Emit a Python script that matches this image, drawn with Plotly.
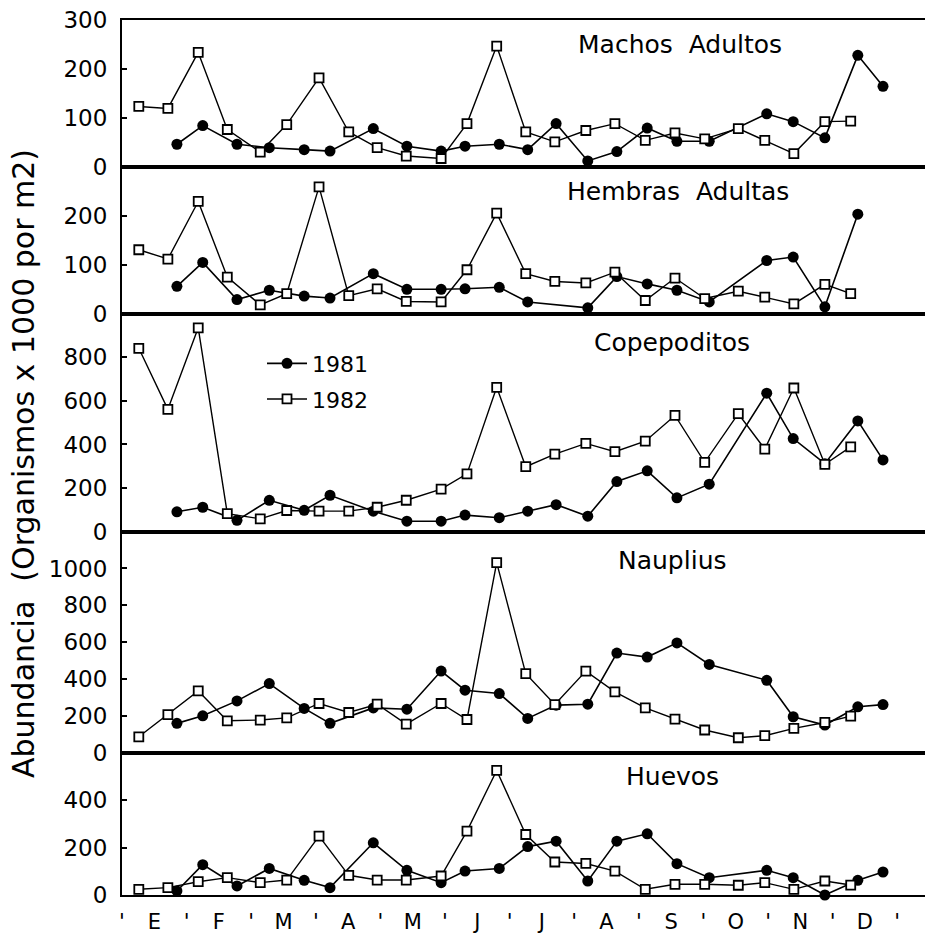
import plotly.graph_objects as go

# ---------------- data ----------------
meses = ["E", "F", "M", "A", "M", "J", "J", "A", "S", "O", "N", "D"]

# sampling dates, in months since 1 January
fecha_1981 = [0.85, 1.25, 1.78, 2.28, 2.82, 3.22, 3.89, 4.41, 4.94, 5.31, 5.84, 6.28,
              6.72, 7.21, 7.66, 8.13, 8.59, 9.09, 9.98, 10.39, 10.88, 11.39, 11.78]
fecha_1982 = [0.26, 0.71, 1.18, 1.63, 2.14, 2.55, 3.05, 3.51, 3.95, 4.40, 4.94, 5.34,
              5.80, 6.25, 6.70, 7.18, 7.63, 8.10, 8.56, 9.02, 9.54, 9.95, 10.40, 10.88, 11.28]

machos_1981 = [47, 85, 47, 40, 36, 33, 79, 43, 33, 43, 47, 36, 89, 13, 32, 80, 53, 53,
               109, 93, 60, 228, 165]
machos_1982 = [124, 120, 234, 77, 31, 87, 182, 72, 40, 23, 18, 89, 247, 72, 52, 75, 89,
               55, 70, 58, 79, 55, 28, 93, 94]

hembras_1981 = [56, 105, 29, 48, 36, 32, 82, 50, 50, 51, 54, 24, None, 12, 76, 61, 48, 24,
                109, 116, 14, 204, None]
hembras_1982 = [131, 112, 230, 75, 18, 41, 260, 37, 51, 25, 24, 90, 206, 82, 66, 63, 85,
                27, 73, 31, 46, 34, 20, 60, 41]

copepoditos_1981 = [91, 112, 52, 144, 98, 167, 94, 48, 48, 76, 64, 94, 124, 71, 230, 279,
                    155, 218, 635, 427, 312, 508, 329]
copepoditos_1982 = [841, 561, 935, 83, 59, 97, 94, 94, 112, 144, 195, 265, 662, 298, 356,
                    405, 367, 415, 533, 318, 541, 379, 659, 309, 389]

nauplius_1981 = [159, 200, 281, 375, 240, 159, 243, 236, 443, 339, 321, 186, 258, 263, 541,
                 519, 596, 479, 393, 195, 150, 249, 261]
nauplius_1982 = [86, 207, 335, 173, 177, 189, 267, 218, 263, 155, 267, 180, 1032, 429, 261,
                 443, 330, 243, 182, 123, 81, 92, 132, 164, 198]

huevos_1981 = [17, 128, 38, 112, 62, 31, 220, 104, 52, 101, 112, 204, 227, 59, 227, 258,
               132, 73, 104, 73, 0, 62, 97]
huevos_1982 = [24, 31, 56, 73, 52, 63, 248, 83, 63, 63, 80, 269, 525, 255, 139, 133, 101,
               24, 45, 45, 41, 52, 24, 59, 42]

paneles = ["Machos\u00a0 Adultos", "Hembras\u00a0 Adultas", "Copepoditos", "Nauplius", "Huevos"]
series_1981 = [machos_1981, hembras_1981, copepoditos_1981, nauplius_1981, huevos_1981]
series_1982 = [machos_1982, hembras_1982, copepoditos_1982, nauplius_1982, huevos_1982]
rangos_y = [300, 300, 1000, 1200, 600]
ticks_y = [[0, 100, 200, 300], [0, 100, 200], [0, 200, 400, 600, 800],
           [0, 200, 400, 600, 800, 1000], [0, 200, 400]]

# ---------------- layout geometry ----------------
W, H = 925, 934
ML, MT, MB = 122, 20, 35
plot_h = H - MT - MB
bordes_px = [20, 168, 315, 534, 756, 899]  # panel boundaries (pixels from top)
dominios = []
for i in range(5):
    top = (899 - bordes_px[i]) / plot_h
    bot = (899 - bordes_px[i + 1]) / plot_h
    dominios.append([bot, top])

FONT = "DejaVu Sans"
fig = go.Figure()

for i in range(5):
    n = i + 1
    xa = "x" if n == 1 else f"x{n}"
    ya = "y" if n == 1 else f"y{n}"
    leg = (i == 2)
    fig.add_trace(go.Scatter(
        x=fecha_1981, y=series_1981[i], xaxis=xa, yaxis=ya, mode="lines+markers",
        name="1981", showlegend=leg, legendgroup="a", connectgaps=True, cliponaxis=False,
        line=dict(color="black", width=1.6),
        marker=dict(symbol="circle", size=11, color="black", line=dict(width=0))))
    fig.add_trace(go.Scatter(
        x=fecha_1982, y=series_1982[i], xaxis=xa, yaxis=ya, mode="lines+markers",
        name="1982", showlegend=leg, legendgroup="b", connectgaps=True, cliponaxis=False,
        line=dict(color="black", width=1.4),
        marker=dict(symbol="square", size=9, color="white", line=dict(color="black", width=1.8))))

layout = dict(
    width=W, height=H,
    margin=dict(l=ML, r=0, t=MT, b=MB),
    paper_bgcolor="white", plot_bgcolor="white",
    font=dict(family=FONT, color="black"),
    showlegend=True,
    legend=dict(x=(262 - ML) / (W - ML), y=(899 - 344) / plot_h, xanchor="left", yanchor="top",
                bgcolor="rgba(0,0,0,0)", font=dict(size=22, family=FONT),
                tracegroupgap=4, itemwidth=40),
)

limites_mes = list(range(13))
centros_mes = [m + 0.5 for m in range(12)]
tv = []
tt = []
for b in limites_mes:
    tv.append(b)
    tt.append("'")
for c, m in zip(centros_mes, meses):
    tv.append(c)
    tt.append(m)

for i in range(5):
    n = i + 1
    xk = "xaxis" if n == 1 else f"xaxis{n}"
    yk = "yaxis" if n == 1 else f"yaxis{n}"
    ya = "y" if n == 1 else f"y{n}"
    bottom = (n == 5)
    layout[xk] = dict(
        domain=[0, 1], anchor=ya, range=[0, 12.43],
        showline=True, linecolor="black", linewidth=2, mirror=True,
        showgrid=False, zeroline=False,
        ticks="", showticklabels=bottom,
        tickvals=tv if bottom else None, ticktext=tt if bottom else None,
        tickfont=dict(size=21, family=FONT, color="black"),
        ticklabelstandoff=7,
    )
    if n != 5:
        layout[xk]["matches"] = "x5"
    layout[yk] = dict(
        domain=dominios[i], anchor="x" if n == 1 else f"x{n}", range=[0, rangos_y[i]],
        showline=True, linecolor="black", linewidth=2,
        showgrid=False, zeroline=False,
        ticks="inside", ticklen=5, tickwidth=1.5, tickcolor="black",
        tickvals=ticks_y[i],
        tickfont=dict(size=23, family=FONT, color="black"),
        ticklabelstandoff=8,
    )

fig.update_layout(**layout)

# panel titles
titulos_px = [(680, 45), (678, 192), (672, 344), (672, 563), (672, 780)]
anns = []
for t, (cx, cy) in zip(paneles, titulos_px):
    anns.append(dict(text=t, xref="paper", yref="paper",
                     x=(cx - ML) / (W - ML), y=(899 - cy) / plot_h,
                     xanchor="center", yanchor="middle", showarrow=False,
                     font=dict(size=25, family=FONT, color="black")))
anns.append(dict(text="Abundancia\u00a0 (Organismos x 1000 por m2)", xref="paper", yref="paper",
                 x=(24 - ML) / (W - ML), y=(899 - 466) / plot_h, textangle=-90,
                 xanchor="center", yanchor="middle", showarrow=False,
                 font=dict(size=30, family=FONT, color="black")))
fig.update_layout(annotations=anns)

fig.write_html("out.html")
